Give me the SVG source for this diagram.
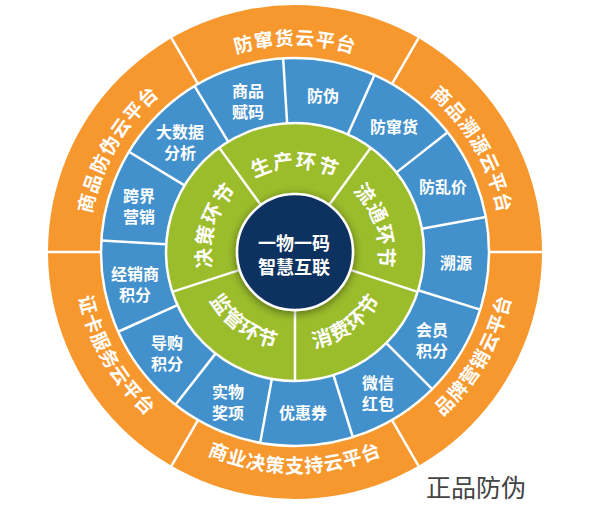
<svg xmlns="http://www.w3.org/2000/svg" width="592" height="505" viewBox="0 0 592 505">
<style>
.t{font-family:"Noto Sans CJK SC","Microsoft YaHei",sans-serif;fill:#fff;font-weight:bold}
.bl{font-size:16px;text-anchor:middle}
.or{font-size:19px;letter-spacing:1px}
.gr{font-size:20px;letter-spacing:1px}
.ct{font-size:18px;text-anchor:middle}
.div{stroke:#fff;stroke-width:2.5;fill:none}
</style>
<defs>
<filter id="sh" x="-40%" y="-40%" width="180%" height="180%">
<feDropShadow dx="0" dy="2" stdDeviation="4" flood-color="#000" flood-opacity="0.45"/>
</filter>
<path id="o1" d="M148.63,105.63 A207,207 0 0 1 441.37,105.63"/>
<path id="o2" d="M348.58,52.05 A207,207 0 0 1 494.95,305.58"/>
<path id="o3" d="M352.20,465.47 A221,221 0 0 0 508.47,194.80"/>
<path id="o4" d="M138.73,408.27 A221,221 0 0 0 451.27,408.27"/>
<path id="o5" d="M81.53,194.80 A221,221 0 0 0 237.80,465.47"/>
<path id="o6" d="M95.05,305.58 A207,207 0 0 1 241.42,52.05"/>
<path id="g1" d="M235.60,192.60 A84,84 0 0 1 354.40,192.60"/>
<path id="g2" d="M333.14,177.16 A84,84 0 0 1 369.84,290.14"/>
<path id="g3" d="M279.67,348.79 A98,98 0 0 0 391.79,267.33"/>
<path id="g4" d="M198.21,267.33 A98,98 0 0 0 310.33,348.79"/>
<path id="g5" d="M220.16,290.14 A84,84 0 0 1 256.86,177.16"/>
</defs>

<g id="ring-orange">
<circle cx="295" cy="252" r="247" fill="#F7982F"/>
</g>
<g id="ring-blue">
<circle cx="295" cy="252" r="194" fill="#4291CD" stroke="#fff" stroke-width="2.5"/>
</g>
<g id="ring-green">
<circle cx="295" cy="252" r="129" fill="#9BBC2B" stroke="#fff" stroke-width="2.5"/>
</g>

<g id="connectors">
<g class="div">
<line x1="489" y1="252" x2="542" y2="252"/>
<line x1="392" y1="83.99" x2="418.5" y2="38.09"/>
<line x1="198" y1="83.99" x2="171.5" y2="38.09"/>
<line x1="101" y1="252" x2="48" y2="252"/>
<line x1="198" y1="420.01" x2="171.5" y2="465.91"/>
<line x1="392" y1="420.01" x2="418.5" y2="465.91"/>

<line x1="287.12" y1="123.24" x2="283.16" y2="58.36"/>
<line x1="347.87" y1="134.33" x2="374.50" y2="75.04"/>
<line x1="396.50" y1="172.38" x2="447.65" y2="132.27"/>
<line x1="421.87" y1="228.66" x2="485.80" y2="216.90"/>
<line x1="418.19" y1="290.29" x2="480.26" y2="309.59"/>
<line x1="386.28" y1="343.15" x2="432.27" y2="389.08"/>
<line x1="333.47" y1="375.13" x2="352.85" y2="437.17"/>
<line x1="271.84" y1="378.90" x2="260.17" y2="442.85"/>
<line x1="215.52" y1="353.61" x2="175.47" y2="404.80"/>
<line x1="177.40" y1="305.03" x2="118.14" y2="331.75"/>
<line x1="166.23" y1="244.30" x2="101.35" y2="240.43"/>
<line x1="184.56" y1="185.35" x2="128.91" y2="151.76"/>
<line x1="228.19" y1="141.65" x2="194.53" y2="86.05"/>

<line x1="295" y1="310" x2="295" y2="381"/>
<line x1="350.16" y1="269.92" x2="417.69" y2="291.86"/>
<line x1="329.09" y1="205.08" x2="370.82" y2="147.64"/>
<line x1="260.91" y1="205.08" x2="219.18" y2="147.64"/>
<line x1="239.84" y1="269.92" x2="172.31" y2="291.86"/>
</g>
</g>

<g id="orange-labels" class="t or">
<text id="p1"><textPath href="#o1" startOffset="50%" text-anchor="middle">防窜货云平台</textPath></text>
<text id="p2"><textPath href="#o2" startOffset="50%" text-anchor="middle">商品溯源云平台</textPath></text>
<text id="p3"><textPath href="#o3" startOffset="50%" text-anchor="middle">品牌营销云平台</textPath></text>
<text id="p4"><textPath href="#o4" startOffset="50%" text-anchor="middle">商业决策支持云平台</textPath></text>
<text id="p5"><textPath href="#o5" startOffset="50%" text-anchor="middle">证卡服务云平台</textPath></text>
<text id="p6"><textPath href="#o6" startOffset="50%" text-anchor="middle">商品防伪云平台</textPath></text>
</g>

<g id="green-labels" class="t gr">
<text id="s1"><textPath href="#g1" startOffset="50%" text-anchor="middle">生产环节</textPath></text>
<text id="s2"><textPath href="#g2" startOffset="50%" text-anchor="middle">流通环节</textPath></text>
<text id="s3"><textPath href="#g3" startOffset="50%" text-anchor="middle">消费环节</textPath></text>
<text id="s4"><textPath href="#g4" startOffset="50%" text-anchor="middle">监管环节</textPath></text>
<text id="s5"><textPath href="#g5" startOffset="50%" text-anchor="middle">决策环节</textPath></text>
</g>

<g id="blue-labels" class="t bl">
<g id="b1"><text x="248" y="96.5">商品</text><text x="248" y="117.5">赋码</text></g>
<g id="b2"><text x="323" y="102">防伪</text></g>
<g id="b3"><text x="394" y="133">防窜货</text></g>
<g id="b4"><text x="443" y="193">防乱价</text></g>
<g id="b5"><text x="456" y="269">溯源</text></g>
<g id="b6"><text x="432" y="335.5">会员</text><text x="432" y="356.5">积分</text></g>
<g id="b7"><text x="378" y="388.5">微信</text><text x="378" y="409.5">红包</text></g>
<g id="b8"><text x="303" y="419">优惠券</text></g>
<g id="b9"><text x="228" y="397.5">实物</text><text x="228" y="418.5">奖项</text></g>
<g id="b10"><text x="167" y="348.5">导购</text><text x="167" y="369.5">积分</text></g>
<g id="b11"><text x="135" y="279.5">经销商</text><text x="135" y="300.5">积分</text></g>
<g id="b12"><text x="139" y="201.5">跨界</text><text x="139" y="222.5">营销</text></g>
<g id="b13"><text x="180" y="137.5">大数据</text><text x="180" y="158.5">分析</text></g>
</g>

<g id="center">
<circle cx="295" cy="252" r="58" fill="#113161" stroke="#fff" stroke-width="2.5" filter="url(#sh)"/>
<text class="t ct" x="294" y="249.5">一物一码</text>
<text class="t ct" x="294" y="273.5">智慧互联</text>
</g>

<g id="caption">
<text x="476" y="497" font-family="'Noto Sans CJK SC','Microsoft YaHei',sans-serif" font-size="25" fill="#444" text-anchor="middle">正品防伪</text>
</g>
</svg>
